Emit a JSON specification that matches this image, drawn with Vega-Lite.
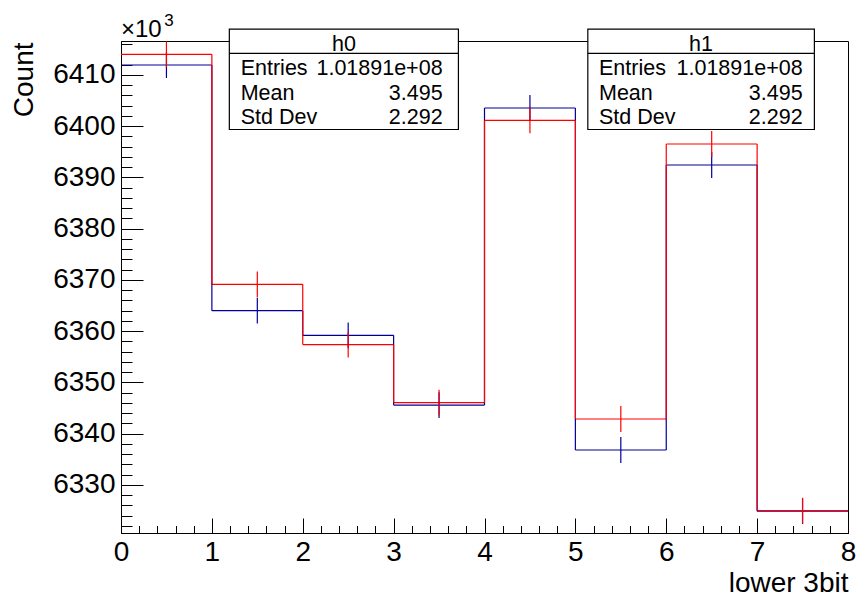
{
  "$schema": "https://vega.github.io/schema/vega-lite/v6.json",
  "width": 727,
  "height": 492,
  "autosize": {"type": "none"},
  "padding": {"left": 121, "top": 41, "right": 9, "bottom": 66},
  "background": "white",
  "config": {
    "view": {"stroke": "black", "strokeWidth": 1},
    "font": "Liberation Sans",
    "axis": {"grid": false, "domainColor": "black", "tickColor": "black", "labelColor": "black", "titleColor": "black", "titleFontWeight": "normal", "tickWidth": 1, "domainWidth": 1}
  },
  "datasets": {
    "hist": [
      {"series": "h0", "lo": 0, "hi": 1, "center": 0.5, "value": 6411.95, "err": 2.53},
      {"series": "h0", "lo": 1, "hi": 2, "center": 1.5, "value": 6364.02, "err": 2.52},
      {"series": "h0", "lo": 2, "hi": 3, "center": 2.5, "value": 6359.2, "err": 2.52},
      {"series": "h0", "lo": 3, "hi": 4, "center": 3.5, "value": 6345.6, "err": 2.52},
      {"series": "h0", "lo": 4, "hi": 5, "center": 4.5, "value": 6403.56, "err": 2.53},
      {"series": "h0", "lo": 5, "hi": 6, "center": 5.5, "value": 6336.83, "err": 2.52},
      {"series": "h0", "lo": 6, "hi": 7, "center": 6.5, "value": 6392.44, "err": 2.53},
      {"series": "h0", "lo": 7, "hi": 8, "center": 7.5, "value": 6324.9, "err": 2.51},
      {"series": "h1", "lo": 0, "hi": 1, "center": 0.5, "value": 6414.04, "err": 2.53},
      {"series": "h1", "lo": 1, "hi": 2, "center": 1.5, "value": 6369.16, "err": 2.52},
      {"series": "h1", "lo": 2, "hi": 3, "center": 2.5, "value": 6357.4, "err": 2.52},
      {"series": "h1", "lo": 3, "hi": 4, "center": 3.5, "value": 6346.06, "err": 2.52},
      {"series": "h1", "lo": 4, "hi": 5, "center": 4.5, "value": 6401.16, "err": 2.53},
      {"series": "h1", "lo": 5, "hi": 6, "center": 5.5, "value": 6342.88, "err": 2.52},
      {"series": "h1", "lo": 6, "hi": 7, "center": 6.5, "value": 6396.54, "err": 2.53},
      {"series": "h1", "lo": 7, "hi": 8, "center": 7.5, "value": 6325.0, "err": 2.51}
    ]
  },
  "resolve": {"axis": {"x": "independent", "y": "independent"}},
  "layer": [
    {
      "data": {"name": "hist"},
      "mark": {"type": "rule", "strokeWidth": 1.2},
      "encoding": {
        "x": {
          "field": "lo", "type": "quantitative",
          "scale": {"domain": [0, 8], "nice": false, "zero": false},
          "axis": {"orient": "bottom", "values": [0, 1, 2, 3, 4, 5, 6, 7, 8], "format": "d", "tickSize": -15, "labelPadding": 20, "labelFontSize": 28, "labelFlush": false, "labelOverlap": false, "labelBaseline": "top", "title": "lower 3bit", "titleFontSize": 28, "titleX": 727, "titleY": 58, "titleAlign": "right", "titleBaseline": "alphabetic"}
        },
        "x2": {"field": "hi"},
        "y": {
          "field": "value", "type": "quantitative",
          "scale": {"domain": [6320.634, 6416.634], "nice": false, "zero": false},
          "axis": {"orient": "left", "values": [6330, 6340, 6350, 6360, 6370, 6380, 6390, 6400, 6410], "format": "d", "tickSize": -22, "labelPadding": 28, "labelFontSize": 28, "labelOverlap": false, "labelBaseline": "middle", "title": "Count", "titleFontSize": 28, "titleX": -89, "titleY": 1, "titleAngle": -90, "titleAlign": "right", "titleBaseline": "alphabetic"}
        },
        "color": {"field": "series", "type": "nominal", "scale": {"domain": ["h0", "h1"], "range": ["#000099", "#ff0000"]}, "legend": null}
      }
    },
    {
      "data": {"name": "hist"},
      "transform": [
        {"window": [{"op": "lead", "field": "value", "as": "next"}], "groupby": ["series"], "sort": [{"field": "lo", "order": "ascending"}]},
        {"filter": "datum.next != null"}
      ],
      "mark": {"type": "rule", "strokeWidth": 1.2},
      "encoding": {
        "x": {
          "field": "hi", "type": "quantitative",
          "axis": {"orient": "bottom", "values": [0, 0.2, 0.4, 0.6, 0.8, 1, 1.2, 1.4, 1.6, 1.8, 2, 2.2, 2.4, 2.6, 2.8, 3, 3.2, 3.4, 3.6, 3.8, 4, 4.2, 4.4, 4.6, 4.8, 5, 5.2, 5.4, 5.6, 5.8, 6, 6.2, 6.4, 6.6, 6.8, 7, 7.2, 7.4, 7.6, 7.8, 8], "tickSize": -7.5, "labels": false, "domain": false, "title": null}
        },
        "y": {
          "field": "value", "type": "quantitative",
          "axis": {"orient": "left", "values": [6322, 6324, 6326, 6328, 6330, 6332, 6334, 6336, 6338, 6340, 6342, 6344, 6346, 6348, 6350, 6352, 6354, 6356, 6358, 6360, 6362, 6364, 6366, 6368, 6370, 6372, 6374, 6376, 6378, 6380, 6382, 6384, 6386, 6388, 6390, 6392, 6394, 6396, 6398, 6400, 6402, 6404, 6406, 6408, 6410, 6412, 6414, 6416], "tickSize": -11, "labels": false, "domain": false, "title": null}
        },
        "y2": {"field": "next"},
        "color": {"field": "series", "type": "nominal", "legend": null}
      }
    },
    {
      "data": {"name": "hist"},
      "mark": {"type": "errorbar", "thickness": 1.2},
      "encoding": {
        "x": {"field": "center", "type": "quantitative", "axis": null},
        "y": {"field": "value", "type": "quantitative", "axis": null},
        "yError": {"field": "err"},
        "color": {"field": "series", "type": "nominal", "legend": null}
      }
    },
    {
      "data": {"values": [{}]},
      "mark": {"type": "rect", "fill": "white", "stroke": "black", "strokeWidth": 1.2},
      "encoding": {
        "x": {"datum": 1.192, "type": "quantitative", "axis": null},
        "x2": {"datum": 3.713},
        "y": {"datum": 6418.97, "type": "quantitative", "axis": null},
        "y2": {"datum": 6399.37}
      }
    },
    {
      "data": {"values": [{}]},
      "mark": {"type": "rule", "color": "black", "strokeWidth": 1.2},
      "encoding": {
        "x": {"datum": 1.192, "type": "quantitative", "axis": null},
        "x2": {"datum": 3.713},
        "y": {"datum": 6414.23, "type": "quantitative", "axis": null}
      }
    },
    {
      "data": {"values": [{}]},
      "mark": {"type": "text", "text": "h0", "fontSize": 21.5, "align": "center", "baseline": "alphabetic", "color": "black"},
      "encoding": {
        "x": {"datum": 2.4525, "type": "quantitative", "axis": null},
        "y": {"datum": 6414.68, "type": "quantitative", "axis": null}
      }
    },
    {
      "data": {"values": [{}]},
      "mark": {"type": "text", "text": ["Entries", "Mean", "Std Dev"], "lineHeight": 24.6, "fontSize": 21.5, "align": "left", "baseline": "alphabetic", "color": "black"},
      "encoding": {
        "x": {"datum": 1.317, "type": "quantitative", "axis": null},
        "y": {"datum": 6410.0, "type": "quantitative", "axis": null}
      }
    },
    {
      "data": {"values": [{}]},
      "mark": {"type": "text", "text": ["1.01891e+08", "3.495", "2.292"], "lineHeight": 24.6, "fontSize": 21.5, "align": "right", "baseline": "alphabetic", "color": "black"},
      "encoding": {
        "x": {"datum": 3.539, "type": "quantitative", "axis": null},
        "y": {"datum": 6410.0, "type": "quantitative", "axis": null}
      }
    },
    {
      "data": {"values": [{}]},
      "mark": {"type": "rect", "fill": "white", "stroke": "black", "strokeWidth": 1.2},
      "encoding": {
        "x": {"datum": 5.137, "type": "quantitative", "axis": null},
        "x2": {"datum": 7.63},
        "y": {"datum": 6418.97, "type": "quantitative", "axis": null},
        "y2": {"datum": 6399.37}
      }
    },
    {
      "data": {"values": [{}]},
      "mark": {"type": "rule", "color": "black", "strokeWidth": 1.2},
      "encoding": {
        "x": {"datum": 5.137, "type": "quantitative", "axis": null},
        "x2": {"datum": 7.63},
        "y": {"datum": 6414.23, "type": "quantitative", "axis": null}
      }
    },
    {
      "data": {"values": [{}]},
      "mark": {"type": "text", "text": "h1", "fontSize": 21.5, "align": "center", "baseline": "alphabetic", "color": "black"},
      "encoding": {
        "x": {"datum": 6.383, "type": "quantitative", "axis": null},
        "y": {"datum": 6414.68, "type": "quantitative", "axis": null}
      }
    },
    {
      "data": {"values": [{}]},
      "mark": {"type": "text", "text": ["Entries", "Mean", "Std Dev"], "lineHeight": 24.6, "fontSize": 21.5, "align": "left", "baseline": "alphabetic", "color": "black"},
      "encoding": {
        "x": {"datum": 5.26, "type": "quantitative", "axis": null},
        "y": {"datum": 6410.0, "type": "quantitative", "axis": null}
      }
    },
    {
      "data": {"values": [{}]},
      "mark": {"type": "text", "text": ["1.01891e+08", "3.495", "2.292"], "lineHeight": 24.6, "fontSize": 21.5, "align": "right", "baseline": "alphabetic", "color": "black"},
      "encoding": {
        "x": {"datum": 7.501, "type": "quantitative", "axis": null},
        "y": {"datum": 6410.0, "type": "quantitative", "axis": null}
      }
    },
    {
      "data": {"values": [{}]},
      "mark": {"type": "text", "text": "×10", "fontSize": 24, "align": "left", "baseline": "alphabetic", "color": "black"},
      "encoding": {
        "x": {"datum": 0.0, "type": "quantitative", "axis": null},
        "y": {"datum": 6417.5, "type": "quantitative", "axis": null}
      }
    },
    {
      "data": {"values": [{}]},
      "mark": {"type": "text", "text": "3", "fontSize": 17, "align": "left", "baseline": "alphabetic", "color": "black"},
      "encoding": {
        "x": {"datum": 0.475, "type": "quantitative", "axis": null},
        "y": {"datum": 6419.5, "type": "quantitative", "axis": null}
      }
    }
  ]
}
